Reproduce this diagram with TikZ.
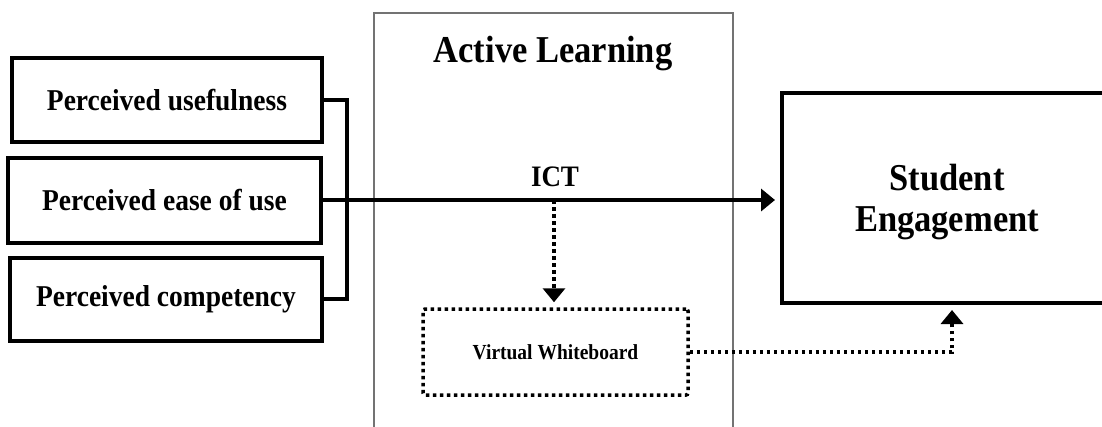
\documentclass[tikz,border=0pt]{standalone}
\usepackage{graphicx}
\usepackage{fontspec}
\setmainfont{Liberation Serif}
\usetikzlibrary{arrows.meta}
% slightly tall lettering
\newcommand{\tallbox}[1]{\scalebox{1}[1.1]{#1}}
\tikzset{
  factor/.style={draw, line width=4pt, inner sep=0pt, font=\bfseries\fontsize{27.5}{30}\selectfont},
  outcome/.style={draw, line width=4pt, inner sep=0pt, font=\bfseries\fontsize{34.5}{36}\selectfont},
  dotline/.style={line width=3.5pt, dash pattern=on 3.5pt off 3.5pt},
  solidline/.style={line width=4pt},
  head/.style={-{Triangle[length=14pt,width=22pt]}},
  frame/.style={draw=black!55, line width=1.2pt},
}
\begin{document}
\begin{tikzpicture}[x=1pt,y=-1pt]
\clip (0,0) rectangle (1102,426);
\fill[white] (0,0) rectangle (1102,426);

% container for the active-learning stage, open at the bottom
\draw[frame] (374,440) |- (733,13) -- (733,440);
\node[font=\bfseries\fontsize{34.5}{40}\selectfont] (title) at (553,54) {\tallbox{Active Learning}};

% perception factors
\node[factor, minimum width=310pt, minimum height=84pt] (pu) at (167,100) {\tallbox{Perceived usefulness}};
\node[factor, minimum width=313pt, minimum height=85pt] (pe) at (164.5,200) {\tallbox{Perceived ease of use}};
\node[factor, minimum width=312pt, minimum height=83pt] (pc) at (166,299) {\tallbox{Perceived competency}};

% outcome
\node[outcome, minimum width=330pt, minimum height=210pt] (se) at (947,198) {};
\node[font=\bfseries\fontsize{34.5}{37}\selectfont, inner sep=0pt] (setext) at (947,203)
  {\tallbox{\begin{tabular}{@{}c@{}}Student\\Engagement\end{tabular}}};

% bracket joining the three factors
\coordinate (brk) at (347,200);
\draw[solidline] (pu.east) -| (brk) |- (pc.east);

% main path through ICT
\draw[solidline, head, shorten >=5pt] (pe.east) -- (se.west |- pe.east);
\node[font=\bfseries\fontsize{27}{30}\selectfont] (ict) at (555,177) {\tallbox{ICT}};

% virtual whiteboard branch
\node[draw, dotline, rounded corners=2pt, minimum width=265pt, minimum height=86pt, inner sep=0pt,
      font=\bfseries\fontsize{19.5}{22}\selectfont] (vw) at (555.5,352) {\tallbox{Virtual Whiteboard}};
\coordinate (split) at (554,200);
\draw[dotline, head, shorten >=5pt] (split) -- (vw.north -| split);
\draw[dotline, head, shorten >=5pt] (vw.east) -| ([xshift=5pt]se.south);
\end{tikzpicture}
\end{document}
